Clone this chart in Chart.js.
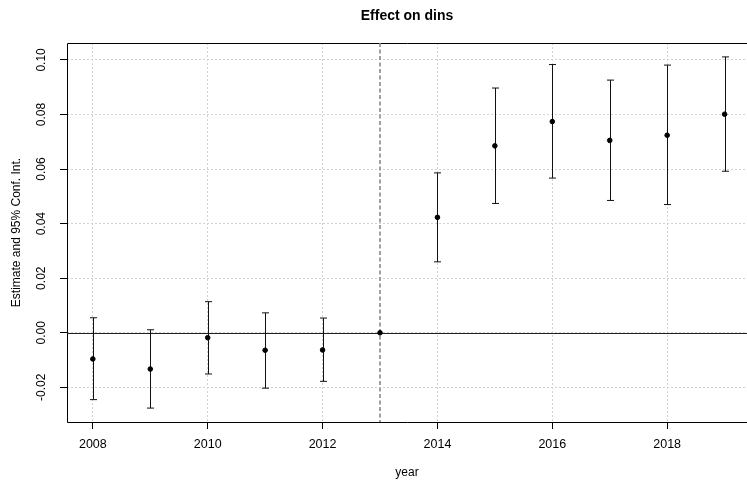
<!DOCTYPE html>
<html>
<head>
<meta charset="utf-8">
<script src="https://cdn.jsdelivr.net/npm/chart.js@4/dist/chart.umd.min.js"></script>
<style>
  html, body { margin: 0; padding: 0; background: #fff; }
</style>
</head>
<body>
<canvas id="chart" width="747" height="482"></canvas>
<script>
const years = [2008, 2009, 2010, 2011, 2012, 2013, 2014, 2015, 2016, 2017, 2018, 2019];
const estimate = [-0.0096, -0.0133, -0.0018, -0.0064, -0.0063, 0, 0.0423, 0.0685, 0.0774, 0.0705, 0.0724, 0.0801];
const ciLow = [-0.0245, -0.0276, -0.0151, -0.0203, -0.0178, null, 0.0260, 0.0474, 0.0567, 0.0485, 0.0470, 0.0592];
const ciHigh = [0.0055, 0.0011, 0.0114, 0.0073, 0.0054, null, 0.0586, 0.0897, 0.0983, 0.0926, 0.0981, 0.1011];
const xTicks = [2008, 2010, 2012, 2014, 2016, 2018];
const yTicks = [-0.02, 0, 0.02, 0.04, 0.06, 0.08, 0.10];
const refYear = 2013;

const titleText = "Effect on dins";
const xTitle = "year";
const yTitle = "Estimate and 95% Conf. Int.";

const FONT = "'Liberation Sans', Arial, Helvetica, sans-serif";

// box lines, zero line, reference line and the error bars
const decorations = {
  id: "decorations",
  beforeDatasetsDraw(chart) {
    const { ctx, chartArea: a, scales: { x, y } } = chart;
    ctx.save();
    ctx.lineWidth = 1;
    ctx.strokeStyle = "#000";
    const top = Math.round(a.top) + 0.5;
    const bottom = Math.round(a.bottom) + 0.5;
    const left = Math.round(a.left) + 0.5;
    ctx.beginPath();
    ctx.moveTo(a.right, top);
    ctx.lineTo(left, top);
    ctx.lineTo(left, bottom);
    ctx.lineTo(a.right, bottom);
    ctx.stroke();

    const y0 = Math.round(y.getPixelForValue(0)) + 0.5;
    ctx.strokeStyle = "#222";
    ctx.beginPath();
    ctx.moveTo(a.left, y0);
    ctx.lineTo(a.right, y0);
    ctx.stroke();

    const xr = Math.round(x.getPixelForValue(refYear));
    ctx.strokeStyle = "#8a8a8a";
    ctx.lineWidth = 1.6;
    ctx.setLineDash([4, 2.5]);
    ctx.beginPath();
    ctx.moveTo(xr, a.top);
    ctx.lineTo(xr, a.bottom);
    ctx.stroke();
    ctx.setLineDash([]);

    ctx.lineWidth = 1;
    ctx.strokeStyle = "#111";
    years.forEach((yr, i) => {
      if (ciLow[i] == null) return;
      const px = Math.round(x.getPixelForValue(yr)) + 0.5;
      const hi = y.getPixelForValue(ciHigh[i]);
      const lo = y.getPixelForValue(ciLow[i]);
      ctx.beginPath();
      ctx.moveTo(px, hi);
      ctx.lineTo(px, lo);
      ctx.moveTo(px - 3.5, hi);
      ctx.lineTo(px + 3.5, hi);
      ctx.moveTo(px - 3.5, lo);
      ctx.lineTo(px + 3.5, lo);
      ctx.stroke();
    });
    ctx.restore();
  },
  afterDraw(chart) {
    const { ctx, chartArea: a, scales: { y } } = chart;
    const cx = (a.left + a.right) / 2;
    ctx.save();
    ctx.fillStyle = "#000";
    ctx.textAlign = "center";
    ctx.textBaseline = "middle";

    ctx.font = "bold 14px " + FONT;
    ctx.fillText(titleText, cx, 16);

    ctx.font = "12px " + FONT;
    ctx.fillText(xTitle, cx, 473);

    ctx.save();
    ctx.translate(17, (a.top + a.bottom) / 2);
    ctx.rotate(-Math.PI / 2);
    ctx.fillText(yTitle, 0, 0);
    ctx.restore();

    yTicks.forEach((v) => {
      ctx.save();
      ctx.translate(42, y.getPixelForValue(v));
      ctx.rotate(-Math.PI / 2);
      ctx.fillText(v.toFixed(2), 0, 0);
      ctx.restore();
    });
    ctx.restore();
  }
};

const gridStyle = {
  color: "#d2d2d2",
  lineWidth: 1,
  drawTicks: true,
  tickLength: 7,
  tickColor: "#000",
  tickBorderDash: [],
};

new Chart(document.getElementById("chart"), {
  type: "scatter",
  data: {
    datasets: [{
      data: years.map((yr, i) => ({ x: yr, y: estimate[i] })),
      backgroundColor: "#000",
      borderColor: "#000",
      pointRadius: 2.3,
      pointHoverRadius: 2.3,
    }],
  },
  options: {
    responsive: false,
    animation: false,
    events: [],
    layout: { autoPadding: false, padding: { top: 43, right: 0, left: 0, bottom: 0 } },
    plugins: {
      legend: { display: false },
      tooltip: { enabled: false },
      title: { display: false },
    },
    scales: {
      x: {
        type: "linear",
        min: 2007.55,
        max: 2019.39,
        afterBuildTicks: (s) => { s.ticks = xTicks.map((v) => ({ value: v })); },
        afterFit: (s) => { s.height = 60; s.paddingLeft = 0; s.paddingRight = 0; },
        grid: gridStyle,
        border: { display: false, dash: [2, 2] },
        ticks: {
          color: "#000",
          font: { family: FONT, size: 12.5 },
          padding: 8,
          maxRotation: 0,
          callback: (v) => String(v),
        },
      },
      y: {
        min: -0.0327,
        max: 0.1062,
        afterBuildTicks: (s) => { s.ticks = yTicks.map((v) => ({ value: v })); },
        afterFit: (s) => { s.width = 67; s.paddingTop = 0; s.paddingBottom = 0; },
        grid: gridStyle,
        border: { display: false, dash: [2, 2] },
        ticks: { display: false },
      },
    },
  },
  plugins: [decorations],
});
</script>
</body>
</html>
